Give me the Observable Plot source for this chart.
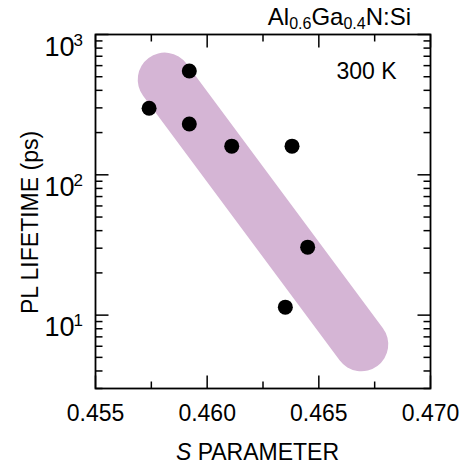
<!DOCTYPE html>
<html>
<head>
<meta charset="utf-8">
<script src="https://cdn.jsdelivr.net/npm/d3@7"></script>
<script src="https://cdn.jsdelivr.net/npm/@observablehq/plot@0.6"></script>
<style>
  html, body { margin: 0; padding: 0; background: #fff; }
  #chart svg { display: block; }
</style>
</head>
<body>
<div id="chart"></div>
<script>
// ---- data ----
const sParameter = [0.4592, 0.4574, 0.4592, 0.4611, 0.4638, 0.4645, 0.4635];
const plLifetime = [550, 298, 230, 160, 160, 30.5, 11.4];

// shaded trend band (end points of the guide stroke)
const bandS = [0.4581, 0.4669];
const bandLifetime = [477, 6.2];

// ticks
const xMajorTicks = [0.455, 0.460, 0.465, 0.470];
const xMinorTicks = [0.4575, 0.4625, 0.4675];
const yMajorTicks = [10, 100, 1000];
const yMinorTicks = [3, 4, 5, 6, 7, 8, 9, 20, 30, 40, 50, 60, 70, 80, 90, 200, 300, 400, 500, 600, 700, 800, 900];

const titleParts = [["Al", false], ["0.6", true], ["Ga", false], ["0.4", true], ["N:Si", false]];
const annotation = "300 K";
const xLabelItalic = "S";
const xLabelRest = " PARAMETER";
const yLabel = "PL LIFETIME (ps)";

// ---- build ----
const W = 472, H = 466;
const mL = 95, mR = 42, mT = 34, mB = 78;
const FONT = "Liberation Sans, Arial, Helvetica, sans-serif";

const points = sParameter.map((s, i) => ({s, t: plLifetime[i]}));
const band = bandS.map((s, i) => ({s, t: bandLifetime[i]}));

// tick glyphs drawn as symbols (dx, dy = direction into the frame)
const tickSymbol = (dx, dy, len) => ({
  draw(context) { context.moveTo(0, 0); context.lineTo(dx * len, dy * len); }
});
const majLen = 13, minLen = 7;
const tickStyle = {fill: "none", stroke: "black", strokeWidth: 1.5};

const plot = Plot.plot({
  width: W, height: H,
  marginLeft: mL, marginRight: mR, marginTop: mT, marginBottom: mB,
  style: {fontFamily: FONT, background: "white", color: "black", overflow: "visible"},
  x: {domain: [0.455, 0.470], axis: null},
  y: {type: "log", domain: [3, 1000], axis: null},
  marks: [
    Plot.line(band, {x: "s", y: "t", stroke: "#d5b5d5", strokeWidth: 54, strokeLinecap: "round"}),
    Plot.dot(points, {x: "s", y: "t", r: 7.5, fill: "black", stroke: "none"}),
    Plot.frame({stroke: "black", strokeWidth: 1.8}),
    // inward ticks, bottom & top
    Plot.dot(xMajorTicks, {x: d => d, frameAnchor: "bottom", symbol: tickSymbol(0, -1, majLen), ...tickStyle}),
    Plot.dot(xMinorTicks, {x: d => d, frameAnchor: "bottom", symbol: tickSymbol(0, -1, minLen), ...tickStyle}),
    Plot.dot(xMajorTicks, {x: d => d, frameAnchor: "top", symbol: tickSymbol(0, 1, majLen), ...tickStyle}),
    Plot.dot(xMinorTicks, {x: d => d, frameAnchor: "top", symbol: tickSymbol(0, 1, minLen), ...tickStyle}),
    // inward ticks, left & right
    Plot.dot(yMajorTicks, {y: d => d, frameAnchor: "left", symbol: tickSymbol(1, 0, majLen), ...tickStyle}),
    Plot.dot(yMinorTicks, {y: d => d, frameAnchor: "left", symbol: tickSymbol(1, 0, minLen), ...tickStyle}),
    Plot.dot(yMajorTicks, {y: d => d, frameAnchor: "right", symbol: tickSymbol(-1, 0, majLen), ...tickStyle}),
    Plot.dot(yMinorTicks, {y: d => d, frameAnchor: "right", symbol: tickSymbol(-1, 0, minLen), ...tickStyle}),
    // x tick labels
    Plot.text(xMajorTicks, {x: d => d, frameAnchor: "bottom", text: d => d3.format(".3f")(d),
      lineAnchor: "bottom", dy: 32, fontSize: 23, fill: "black"}),
    // y tick labels: 10^n
    Plot.text(yMajorTicks, {y: d => d, frameAnchor: "left", text: () => "10",
      textAnchor: "end", lineAnchor: "bottom", dx: -21, dy: 21, fontSize: 27, fill: "black"}),
    Plot.text(yMajorTicks, {y: d => d, frameAnchor: "left", text: d => String(Math.round(Math.log10(d))),
      textAnchor: "start", lineAnchor: "bottom", dx: -22, dy: 11, fontSize: 17, fill: "black"}),
    // annotation
    Plot.text([annotation], {frameAnchor: "top-right", text: d => d, textAnchor: "end",
      lineAnchor: "bottom", dx: -34, dy: 44, fontSize: 23, fill: "black"}),
    // y label
    Plot.text([yLabel], {frameAnchor: "left", text: d => d, rotate: -90, textAnchor: "middle",
      lineAnchor: "bottom", dx: -58, dy: 11, fontSize: 23, fill: "black"})
  ]
});

const svg = d3.select(plot);

// title with subscripts
const title = svg.append("text")
  .attr("x", 411).attr("y", 25)
  .attr("text-anchor", "end")
  .attr("font-family", FONT)
  .attr("font-size", 24)
  .attr("fill", "black");
titleParts.forEach(([t, sub], i) => {
  const ts = title.append("tspan").text(t);
  if (sub) ts.attr("font-size", 16).attr("dy", 4);
  else if (i > 0 && titleParts[i - 1][1]) ts.attr("dy", -4);
});

// x label with italic S
const xl = svg.append("text")
  .attr("x", (mL + W - mR) / 2 - 5).attr("y", 460)
  .attr("text-anchor", "middle")
  .attr("font-family", FONT)
  .attr("font-size", 23)
  .attr("fill", "black");
xl.append("tspan").attr("font-style", "italic").text(xLabelItalic);
xl.append("tspan").text(xLabelRest);

document.getElementById("chart").appendChild(plot);
</script>
</body>
</html>
